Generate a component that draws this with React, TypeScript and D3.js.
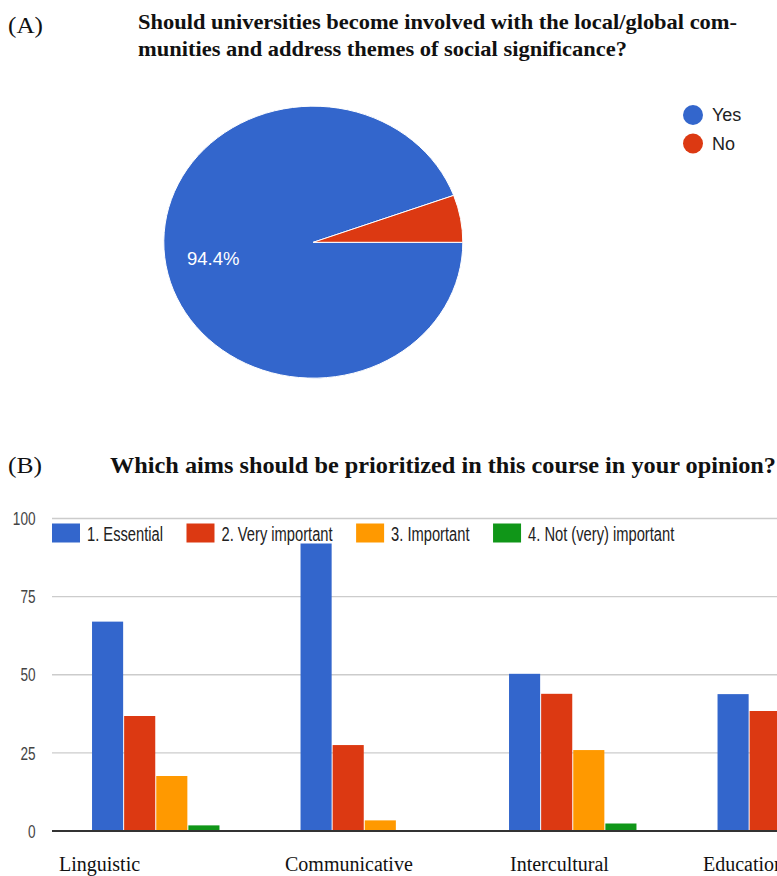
import React, { useMemo } from 'react';
import * as d3 from 'd3';

// ---------- Data ----------
const pieLabels = ['Yes', 'No'];
const pieValues = [94.4, 5.6];
const pieColors = ['#3366cc', '#dc3912'];

const categories = ['Linguistic', 'Communicative', 'Intercultural', 'Educational'];
const seriesNames = ['1. Essential', '2. Very important', '3. Important', '4. Not (very) important'];
const essential: (number | null)[] = [67, 92, 50.3, 43.8];
const veryImportant: (number | null)[] = [36.8, 27.5, 43.9, 38.4];
const important: (number | null)[] = [17.6, 3.4, 25.9, null];
const notImportant: (number | null)[] = [1.8, 0, 2.4, null];
const seriesValues = [essential, veryImportant, important, notImportant];
const barColors = ['#3366cc', '#dc3912', '#ff9900', '#109618'];
const yTicks = [0, 25, 50, 75, 100];

const titleA1 = 'Should universities become involved with the local/global com-';
const titleA2 = 'munities and address themes of social significance?';
const titleB = 'Which aims should be prioritized in this course in your opinion?';

// ---------- Layout ----------
const W = 777;
const H = 876;
const SERIF = "'Liberation Serif', 'Times New Roman', Times, serif";
const SANS = "'Liberation Sans', Arial, Helvetica, sans-serif";
const COND = 0.735; // horizontal condensation of chart texts

function measure(text: string, font: string): number {
  const c = document.createElement('canvas');
  const ctx = c.getContext('2d')!;
  ctx.font = font;
  return ctx.measureText(text).width;
}

export default function App() {
  // Pie
  const pie = useMemo(
    () =>
      d3
        .pie<number>()
        .sort(null)
        .startAngle(Math.PI / 2)
        .endAngle(Math.PI / 2 + 2 * Math.PI)(pieValues),
    []
  );
  const arc = d3.arc<d3.PieArcDatum<number>>().innerRadius(0).outerRadius(1);
  const cx = 313.3;
  const cy = 242.3;
  const rx = 149.5;
  const ry = 136;
  const yesArc = pie[0];
  const mid = (yesArc.startAngle + yesArc.endAngle) / 2;
  const labK = 0.68;
  const labX = cx + rx * labK * Math.sin(mid);
  const labY = cy - ry * labK * Math.cos(mid);

  // Bars
  const left = 52;
  const step = 208.5;
  const x0 = d3
    .scaleBand<string>()
    .domain(categories)
    .range([left, left + step * categories.length])
    .paddingInner(0.384)
    .paddingOuter(0.192);
  const x1 = d3.scaleBand<string>().domain(seriesNames).range([0, x0.bandwidth()]);
  const y = d3.scaleLinear().domain([0, 100]).range([831, 518.5]);

  const labelNudge = [7, 24.5, 41, 25.5];

  // Legend layout for bar chart
  const legFont = `20px ${SANS}`;
  let lx = left;
  const legendItems = seriesNames.map((name, i) => {
    const sx = lx;
    const tw = measure(name, legFont) * COND;
    lx = sx + 35 + tw + 23.5;
    return { name, sx, color: barColors[i] };
  });

  return (
    <svg
      width={W}
      height={H}
      style={{ position: 'absolute', left: 0, top: 0, background: '#fff' }}
    >
      <rect x={0} y={0} width={W} height={H} fill="#fff" />

      {/* ---------- Panel A ---------- */}
      <text x={8} y={33} fontFamily={SERIF} fontSize={24} textLength={35} lengthAdjust="spacingAndGlyphs" fill="#111">
        (A)
      </text>
      <text x={138} y={29} fontFamily={SERIF} fontSize={21.5} fontWeight="bold" textLength={599} lengthAdjust="spacingAndGlyphs" fill="#111">
        {titleA1}
      </text>
      <text x={138} y={56} fontFamily={SERIF} fontSize={21.5} fontWeight="bold" textLength={489} lengthAdjust="spacingAndGlyphs" fill="#111">
        {titleA2}
      </text>

      <g transform={`translate(${cx},${cy}) scale(${rx},${ry})`}>
        {pie.map((d, i) => (
          <path
            key={i}
            d={arc(d) || ''}
            fill={pieColors[i]}
            stroke="#fff"
            strokeWidth={1}
            vectorEffect="non-scaling-stroke"
          />
        ))}
      </g>
      <text
        x={labX}
        y={labY}
        dy="0.35em"
        textAnchor="middle"
        fontFamily={SANS}
        fontSize={18.5}
        fill="#fff"
      >
        {`${pieValues[0].toFixed(1)}%`}
      </text>

      {pieLabels.map((lab, i) => (
        <g key={lab} transform={`translate(693,${115 + i * 28.5})`}>
          <circle r={10} fill={pieColors[i]} />
          <text x={19} dy="0.36em" fontFamily={SANS} fontSize={18} fill="#222">
            {lab}
          </text>
        </g>
      ))}

      {/* ---------- Panel B ---------- */}
      <text x={8} y={472.5} fontFamily={SERIF} fontSize={24} textLength={34} lengthAdjust="spacingAndGlyphs" fill="#111">
        (B)
      </text>
      <text x={110} y={473} fontFamily={SERIF} fontSize={24} fontWeight="bold" textLength={666} lengthAdjust="spacingAndGlyphs" fill="#111">
        {titleB}
      </text>

      {/* gridlines */}
      {yTicks
        .filter((t) => t !== 0)
        .map((t) => (
          <line key={t} x1={left} x2={W} y1={y(t)} y2={y(t)} stroke="#cccccc" strokeWidth={1.3} />
        ))}

      {/* y tick labels */}
      {yTicks.map((t) => (
        <text
          key={t}
          transform={`translate(35.5,${y(t)}) scale(${COND},1)`}
          dy="0.36em"
          textAnchor="end"
          fontFamily={SANS}
          fontSize={18.5}
          fill="#444"
        >
          {t}
        </text>
      ))}

      {/* bars */}
      {categories.map((cat, ci) => (
        <g key={cat}>
          {seriesNames.map((s, si) => {
            const v = seriesValues[si][ci];
            if (v === null || v === undefined || v <= 0) return null;
            const bx = (x0(cat) as number) + (x1(s) as number);
            return (
              <rect
                key={s}
                x={bx}
                y={y(v)}
                width={x1.bandwidth() - 1}
                height={y(0) - y(v)}
                fill={barColors[si]}
              />
            );
          })}
        </g>
      ))}

      {/* baseline */}
      <line x1={left} x2={W} y1={y(0)} y2={y(0)} stroke="#333" strokeWidth={2} />

      {/* legend */}
      {legendItems.map((it) => (
        <g key={it.name}>
          <rect x={it.sx} y={523.5} width={28} height={19} fill={it.color} />
          <text
            transform={`translate(${it.sx + 35},541) scale(${COND},1)`}
            fontFamily={SANS}
            fontSize={20}
            fill="#222"
          >
            {it.name}
          </text>
        </g>
      ))}

      {/* category labels */}
      {categories.map((cat, i) => (
        <text
          key={cat}
          x={(x0(cat) as number) - x0.step() * 0.192 + labelNudge[i]}
          y={871}
          fontFamily={SERIF}
          fontSize={20}
          fill="#111"
        >
          {cat}
        </text>
      ))}
    </svg>
  );
}
